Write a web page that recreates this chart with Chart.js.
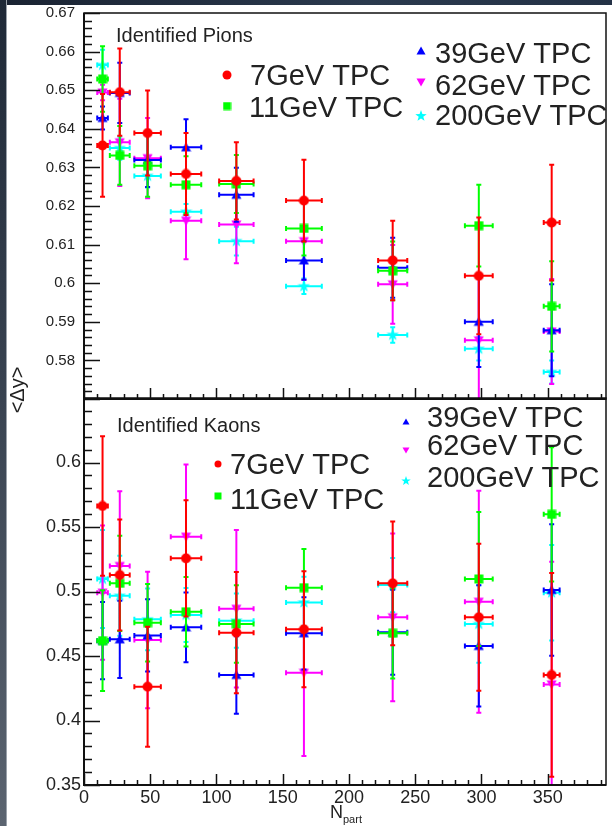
<!DOCTYPE html>
<html lang="en">
<head>
<meta charset="UTF-8">
<title>&lt;Δy&gt; vs N_part</title>
<script src="https://cdn.jsdelivr.net/npm/chart.js"></script>
<style>
  body { margin: 0; background: #fff; }
  #page { position: relative; width: 612px; height: 826px; background: #fff; overflow: hidden;
          font-family: "Liberation Sans", Arial, sans-serif; color: #222; }
  #page canvas { position: absolute; left: 0; }
  #pionCanvas { top: 0; }
  #kaonCanvas { top: 390px; }
  .edge-top { position: absolute; left: 0; top: 0; width: 612px; height: 5px;
              background: linear-gradient(90deg, #1a2332, #2b3a4e 60%, #243246); }
  .edge-left { position: absolute; left: 0; top: 0; width: 6px; height: 826px;
               background: linear-gradient(180deg, #1f2937, #3a4452 50%, #5b6470); border-right: 1px solid #9aa1aa; }
  .ytitle { position: absolute; left: -13px; top: 378px; width: 60px; height: 24px; line-height: 24px;
            text-align: center; font-size: 20px; transform: rotate(-90deg); }
  .xtitle { position: absolute; left: 330px; top: 803px; font-size: 18px; line-height: 18px; white-space: nowrap; }
  .xtitle span { font-size: 11px; position: relative; top: 5px; }
</style>
</head>
<body>
<div id="page">
  <canvas id="pionCanvas" width="612" height="405"></canvas>
  <canvas id="kaonCanvas" width="612" height="436"></canvas>
  <div class="ytitle">&lt;Δy&gt;</div>
  <div class="xtitle">N<span>part</span></div>
  <div class="edge-top"></div>
  <div class="edge-left"></div>
</div>

<script>
  // N_part per centrality bin and its horizontal error
  const npart    = [14, 27, 48, 77, 115, 166, 233, 298, 353];
  const npartErr = [4, 7.5, 10, 11.5, 13, 13.5, 11, 10.5, 6];

  const xTicks = [0, 50, 100, 150, 200, 250, 300, 350];
  const xTickLabels = ['0', '50', '100', '150', '200', '250', '300', '350'];
  const pionTicks = [0.58, 0.59, 0.6, 0.61, 0.62, 0.63, 0.64, 0.65, 0.66, 0.67];
  const pionTickLabels = ['0.58', '0.59', '0.6', '0.61', '0.62', '0.63', '0.64', '0.65', '0.66', '0.67'];
  const kaonTicks = [0.35, 0.4, 0.45, 0.5, 0.55, 0.6];
  const kaonTickLabels = ['0.35', '0.4', '0.45', '0.5', '0.55', '0.6'];

  const energies = ['7GeV TPC', '11GeV TPC', '39GeV TPC', '62GeV TPC', '200GeV TPC'];

  // pions <Δy>
  const pion7     = [0.6357, 0.6495, 0.6389, 0.6283, 0.6265, 0.6214, 0.6059, 0.6019, 0.6157];
  const pion7Err  = [0.0133, 0.0113, 0.011, 0.0106, 0.010, 0.0106, 0.0103, 0.0151, 0.015];
  const pion11    = [0.6529, 0.6331, 0.6304, 0.6255, 0.6257, 0.6142, 0.6032, 0.6149, 0.594];
  const pion11Err = [0.0085, 0.0076, 0.008, 0.0074, 0.0075, 0.007, 0.0076, 0.0106, 0.0117];
  const pion39    = [0.6428, 0.6493, 0.6319, 0.6352, 0.6229, 0.6059, 0.604, 0.590, 0.5878];
  const pion39Err = [0.003, 0.0078, 0.007, 0.0073, 0.007, 0.005, 0.0078, 0.0117, 0.0119];
  const pion62    = [0.6494, 0.6365, 0.6324, 0.6162, 0.6152, 0.6109, 0.5997, 0.5852, 0.5875];
  const pion62Err = [0.002, 0.0113, 0.0104, 0.010, 0.010, 0.010, 0.0102, 0.016, 0.0136];
  const pion200   = [0.6565, 0.635, 0.6278, 0.6185, 0.6109, 0.5992, 0.5866, 0.583, 0.577];
  const pion200Err= [0.004, 0.003, 0.003, 0.002, 0.0037, 0.002, 0.002, 0.003, 0.003];

  // kaons <Δy>
  const kaon7     = [0.5663, 0.5128, 0.4262, 0.5257, 0.4681, 0.4707, 0.5063, 0.480, 0.4353];
  const kaon7Err  = [0.054, 0.043, 0.0465, 0.045, 0.047, 0.045, 0.048, 0.057, 0.079];
  const kaon11    = [0.4619, 0.5063, 0.4758, 0.4843, 0.4748, 0.503, 0.4676, 0.5097, 0.5598];
  const kaon11Err = [0.039, 0.037, 0.030, 0.027, 0.030, 0.030, 0.035, 0.052, 0.052];
  const kaon39    = [0.4619, 0.4629, 0.4659, 0.4722, 0.4353, 0.4676, 0.4684, 0.4578, 0.5012];
  const kaon39Err = [0.030, 0.030, 0.028, 0.027, 0.030, 0.028, 0.033, 0.047, 0.051];
  const kaon62    = [0.4991, 0.5198, 0.4624, 0.5425, 0.4866, 0.437, 0.48, 0.4921, 0.428];
  const kaon62Err = [0.052, 0.058, 0.053, 0.056, 0.061, 0.0645, 0.065, 0.086, 0.095];
  const kaon200   = [0.5097, 0.4967, 0.4784, 0.4818, 0.4774, 0.4915, 0.505, 0.4748, 0.4991];
  const kaon200Err= [0.038, 0.031, 0.024, 0.021, 0.021, 0.020, 0.021, 0.030, 0.037];

  const FONT = '"Liberation Sans", Arial, sans-serif';
  const TEXT = '#222';
  const seriesStyle = [
    { color: '#ff0000', shape: 'circle', size: 11 },
    { color: '#00ff00', shape: 'square', size: 10 },
    { color: '#0000ff', shape: 'up',     size: 11 },
    { color: '#ff00ff', shape: 'down',   size: 11 },
    { color: '#00ffff', shape: 'star',   size: 13 }
  ];

  // small canvases used as point styles (ROOT-like markers)
  function makeMarker(shape, size, color) {
    const c = document.createElement('canvas');
    c.width = c.height = size;
    const g = c.getContext('2d');
    const m = size / 2;
    g.fillStyle = color;
    g.beginPath();
    if (shape === 'circle') {
      g.arc(m, m, m - 0.5, 0, Math.PI * 2);
    } else if (shape === 'square') {
      g.rect(0.5, 0.5, size - 1, size - 1);
    } else if (shape === 'up') {
      g.moveTo(m, 0.5); g.lineTo(size - 0.5, size - 1.5); g.lineTo(0.5, size - 1.5);
    } else if (shape === 'down') {
      g.moveTo(m, size - 0.5); g.lineTo(size - 0.5, 1.5); g.lineTo(0.5, 1.5);
    } else {
      for (let i = 0; i < 10; i++) {
        const r = i % 2 ? size * 0.2 : size / 2;
        const a = -Math.PI / 2 + i * Math.PI / 5;
        g.lineTo(m + r * Math.cos(a), m + r * Math.sin(a));
      }
    }
    g.closePath();
    g.fill();
    return c;
  }

  function points(ys, errs) {
    return npart.map((n, i) => ({ x: n, y: ys[i], xErr: npartErr[i], yErr: errs[i] }));
  }

  function datasets(series) {
    return series.map(([ys, errs], k) => ({
      label: energies[k],
      data: points(ys, errs),
      borderColor: seriesStyle[k].color,
      backgroundColor: seriesStyle[k].color,
      pointStyle: makeMarker(seriesStyle[k].shape, seriesStyle[k].size, seriesStyle[k].color),
      showLine: false
    }));
  }

  // error bars with end caps, drawn just before each dataset's markers
  const errorBars = {
    id: 'errorBars',
    beforeDatasetDraw(chart, args) {
      const ds = chart.data.datasets[args.index];
      const xs = chart.scales.x, ys = chart.scales.y, a = chart.chartArea, ctx = chart.ctx;
      ctx.save();
      ctx.beginPath();
      ctx.rect(a.left, a.top, a.right - a.left, a.bottom - a.top);
      ctx.clip();
      ctx.strokeStyle = ds.borderColor;
      ctx.lineWidth = 2;
      ctx.beginPath();
      const cap = 2.5;
      ds.data.forEach(p => {
        const cx = xs.getPixelForValue(p.x), cy = ys.getPixelForValue(p.y);
        const xl = xs.getPixelForValue(p.x - p.xErr), xr = xs.getPixelForValue(p.x + p.xErr);
        const yt = ys.getPixelForValue(p.y + p.yErr), yb = ys.getPixelForValue(p.y - p.yErr);
        ctx.moveTo(xl, cy); ctx.lineTo(xr, cy);
        ctx.moveTo(cx, yt); ctx.lineTo(cx, yb);
        ctx.moveTo(xl, cy - cap); ctx.lineTo(xl, cy + cap);
        ctx.moveTo(xr, cy - cap); ctx.lineTo(xr, cy + cap);
        ctx.moveTo(cx - cap, yt); ctx.lineTo(cx + cap, yt);
        ctx.moveTo(cx - cap, yb); ctx.lineTo(cx + cap, yb);
      });
      ctx.stroke();
      ctx.restore();
    }
  };

  // frame plus inward major/minor tick marks
  function frameTicks(yMajor, yMinor) {
    return {
      id: 'frameTicks',
      afterDraw(chart) {
        const xs = chart.scales.x, ys = chart.scales.y, a = chart.chartArea, ctx = chart.ctx;
        ctx.save();
        ctx.strokeStyle = '#111';
        ctx.lineWidth = 1.5;
        ctx.strokeRect(a.left, a.top, a.right - a.left, a.bottom - a.top);
        ctx.lineWidth = 2;
        ctx.beginPath();
        ctx.moveTo(a.left, a.top); ctx.lineTo(a.left, a.bottom); ctx.lineTo(a.right, a.bottom);
        ctx.stroke();
        ctx.lineWidth = 1.5;
        ctx.beginPath();
        const ny = Math.round((ys.max - ys.min) / yMinor);
        for (let i = 0; i <= ny; i++) {
          const v = ys.min + i * yMinor;
          const major = Math.abs(v / yMajor - Math.round(v / yMajor)) < 1e-6;
          const py = Math.round(ys.getPixelForValue(v)) + 0.5;
          ctx.moveTo(a.left, py); ctx.lineTo(a.left + (major ? 16 : 8), py);
        }
        for (let v = 0; v <= xs.max; v += 10) {
          const px = Math.round(xs.getPixelForValue(v)) + 0.5;
          ctx.moveTo(px, a.bottom); ctx.lineTo(px, a.bottom - (v % 50 === 0 ? 11 : 5));
        }
        ctx.stroke();
        ctx.restore();
      }
    };
  }

  // panel caption and the two legend blocks
  function panelText(id, caption, captionPos, slots, markerScale) {
    return {
      id,
      afterDraw(chart) {
        const ctx = chart.ctx;
        ctx.save();
        ctx.fillStyle = TEXT;
        ctx.textBaseline = 'alphabetic';
        ctx.font = '20px ' + FONT;
        ctx.fillText(caption, captionPos[0], captionPos[1]);
        ctx.font = '29px ' + FONT;
        slots.forEach((s, k) => {
          const st = seriesStyle[k];
          const size = Math.round(st.size * markerScale);
          const img = makeMarker(st.shape, size, st.color);
          ctx.drawImage(img, s.mx - size / 2, s.my - size / 2);
          ctx.fillText(energies[k], s.tx, s.ty);
        });
        ctx.restore();
      }
    };
  }

  function yScale(min, max, ticks, labels, fontSize, pad) {
    return {
      type: 'linear', min, max,
      grid: { display: false, drawTicks: false },
      border: { display: false },
      afterBuildTicks: s => { s.ticks = ticks.map(v => ({ value: v })); },
      ticks: { callback: (v, i) => labels[i], font: { family: FONT, size: fontSize }, color: TEXT, padding: pad, autoSkip: false },
      afterFit: s => { s.width = 84; s.paddingTop = 0; s.paddingBottom = 0; }
    };
  }

  function xScale(show) {
    return {
      type: 'linear', min: 0, max: 394, display: show,
      grid: { display: false, drawTicks: false },
      border: { display: false },
      afterBuildTicks: s => { s.ticks = xTicks.map(v => ({ value: v })); },
      ticks: { callback: (v, i) => xTickLabels[i], font: { family: FONT, size: 18 }, color: TEXT, padding: 2, maxRotation: 0, autoSkip: false },
      afterFit: s => { s.height = show ? 41 : 0; s.paddingLeft = 0; s.paddingRight = 0; }
    };
  }

  const common = {
    responsive: false,
    animation: false,
    events: [],
    elements: { point: { radius: 5 } },
    plugins: { legend: { display: false }, tooltip: { enabled: false } }
  };

  new Chart(document.getElementById('pionCanvas'), {
    type: 'scatter',
    data: {
      datasets: datasets([[pion7, pion7Err], [pion11, pion11Err], [pion39, pion39Err], [pion62, pion62Err], [pion200, pion200Err]])
    },
    options: Object.assign({}, common, {
      layout: { padding: { left: 0, right: 2, top: 13, bottom: 2 } },
      scales: { x: xScale(false), y: yScale(0.57, 0.67, pionTicks, pionTickLabels, 15, 9) }
    }),
    plugins: [
      errorBars,
      frameTicks(0.01, 0.002),
      panelText('pionText', 'Identified Pions', [116, 41.5], [
        { mx: 227, my: 75, tx: 250, ty: 85 },
        { mx: 227, my: 106, tx: 249, ty: 116.5 },
        { mx: 421, my: 51, tx: 435, ty: 63 },
        { mx: 421, my: 82, tx: 435, ty: 95 },
        { mx: 421, my: 116, tx: 435, ty: 124.5 }
      ], 0.9)
    ]
  });

  new Chart(document.getElementById('kaonCanvas'), {
    type: 'scatter',
    data: {
      datasets: datasets([[kaon7, kaon7Err], [kaon11, kaon11Err], [kaon39, kaon39Err], [kaon62, kaon62Err], [kaon200, kaon200Err]])
    },
    options: Object.assign({}, common, {
      layout: { padding: { left: 0, right: 2, top: 8, bottom: 0 } },
      scales: { x: xScale(true), y: yScale(0.35, 0.65, kaonTicks, kaonTickLabels, 18, 3) }
    }),
    plugins: [
      errorBars,
      frameTicks(0.05, 0.01),
      panelText('kaonText', 'Identified Kaons', [117, 41.5], [
        { mx: 218, my: 74, tx: 230, ty: 83.5 },
        { mx: 218, my: 106, tx: 230, ty: 118.5 },
        { mx: 406, my: 32, tx: 427, ty: 36.5 },
        { mx: 406, my: 60, tx: 427, ty: 65 },
        { mx: 406, my: 91, tx: 427, ty: 97 }
      ], 0.75)
    ]
  });
</script>
</body>
</html>
